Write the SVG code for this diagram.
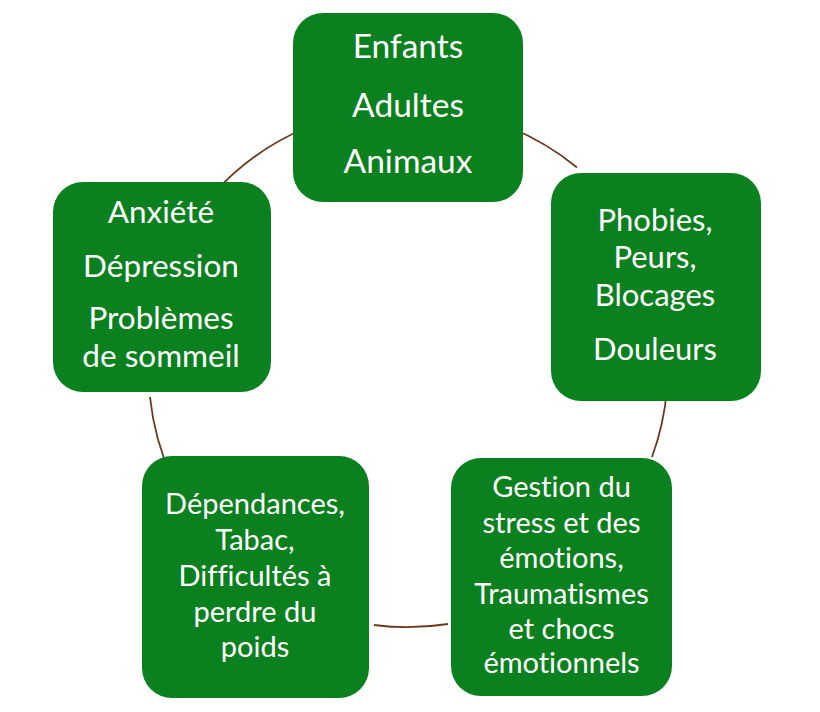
<svg xmlns="http://www.w3.org/2000/svg" width="820" height="712" viewBox="0 0 820 712">
<style>
.box{fill:#0A801E}
.t{fill:#fff;font-family:Lato,"Noto Sans",sans-serif;text-anchor:middle;font-variant-ligatures:none}
.conn path{fill:none;stroke:#6B3A1E;stroke-width:1.8}
</style>
<rect width="820" height="712" fill="#fff"/>
<g class="conn" id="connectors">
<path d="M510,127.5 A260,260 0 0 1 577,167.5"/>
<path d="M667,389 A260,260 0 0 1 652,457"/>
<path d="M448,624 A260,260 0 0 1 374,625"/>
<path d="M172,478 A260,260 0 0 1 150,397"/>
<path d="M214,193 A260,260 0 0 1 307,127.5"/>
</g>
<g id="top">
<rect class="box" x="293" y="13" width="230" height="189" rx="30"/>
<text class="t" font-size="33.5"><tspan x="408" y="58">Enfants</tspan><tspan x="408" y="117">Adultes</tspan><tspan x="408" y="173">Animaux</tspan></text>
</g>
<g id="right">
<rect class="box" x="551" y="173" width="210" height="228" rx="30"/>
<text class="t" font-size="31"><tspan x="655" y="231">Phobies,</tspan><tspan x="655" y="268">Peurs,</tspan><tspan x="655" y="306">Blocages</tspan><tspan x="655" y="360">Douleurs</tspan></text>
</g>
<g id="bottom-right">
<rect class="box" x="451" y="458" width="221" height="238" rx="30"/>
<text class="t" font-size="29"><tspan x="561.5" y="497">Gestion du</tspan><tspan x="561.5" y="533">stress et des</tspan><tspan x="561.5" y="568">émotions,</tspan><tspan x="561.5" y="604">Traumatismes</tspan><tspan x="561.5" y="639">et chocs</tspan><tspan x="561.5" y="673">émotionnels</tspan></text>
</g>
<g id="bottom-left">
<rect class="box" x="142" y="456" width="227" height="242" rx="30"/>
<text class="t" font-size="29"><tspan x="255" y="514">Dépendances,</tspan><tspan x="255" y="550">Tabac,</tspan><tspan x="255" y="586">Difficultés à</tspan><tspan x="255" y="622">perdre du</tspan><tspan x="255" y="657">poids</tspan></text>
</g>
<g id="left">
<rect class="box" x="53" y="182" width="218" height="210" rx="30"/>
<text class="t" font-size="31.5"><tspan x="161" y="223">Anxiété</tspan><tspan x="161" y="277">Dépression</tspan><tspan x="161" y="329">Problèmes</tspan><tspan x="161" y="367">de sommeil</tspan></text>
</g>
</svg>
